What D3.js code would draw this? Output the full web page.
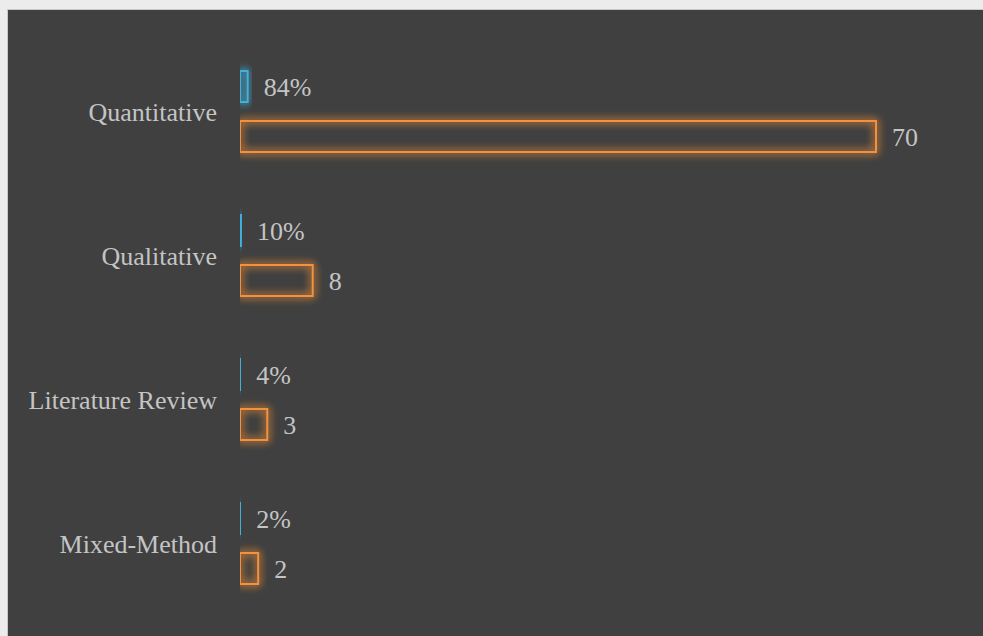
<!DOCTYPE html>
<html><head><meta charset="utf-8">
<script src="https://cdn.jsdelivr.net/npm/d3@7/dist/d3.min.js"></script>
<style>html,body{margin:0;padding:0;background:#e9e9e9;overflow:hidden}</style>
</head><body>
<svg id="c" width="983" height="636"></svg>
<script>
const categories = ["Quantitative", "Qualitative", "Literature Review", "Mixed-Method"];
const seriesKeys = ["percent", "count"];
const percentValues = [0.84, 0.10, 0.04, 0.02];
const percentLabels = ["84%", "10%", "4%", "2%"];
const countValues = [70, 8, 3, 2];
const countLabels = ["70", "8", "3", "2"];

const colors = {percent: "#3fb0dc", count: "#f4913c"};
const W = 983, H = 636;
const svg = d3.select("#c");

// frame
svg.append("rect").attr("x", 0).attr("y", 0).attr("width", W).attr("height", H).attr("fill", "#ececec");
svg.append("rect").attr("x", 7).attr("y", 9).attr("width", W - 7).attr("height", H - 9).attr("fill", "#c8c8c8");
svg.append("rect").attr("x", 8).attr("y", 10).attr("width", W - 8).attr("height", H - 10).attr("fill", "#404040");

const defs = svg.append("defs");
const f = defs.append("filter").attr("id", "glow").attr("x", "-50%").attr("y", "-50%").attr("width", "200%").attr("height", "200%");
f.append("feGaussianBlur").attr("in", "SourceGraphic").attr("stdDeviation", 4).attr("result", "b");
const fm = f.append("feMerge");
fm.append("feMergeNode").attr("in", "b");
fm.append("feMergeNode").attr("in", "b");
fm.append("feMergeNode").attr("in", "SourceGraphic");

defs.append("clipPath").attr("id", "plotclip").append("rect")
  .attr("x", 240).attr("y", 10).attr("width", W - 240).attr("height", H - 10);

const x = d3.scaleLinear().domain([0, 70]).range([240, 876]);
const y0 = d3.scaleBand().domain(categories).range([39.5, 615.5]).paddingInner(0.4236).paddingOuter(0.2118);
const y1 = d3.scaleBand().domain(seriesKeys).range([0, y0.bandwidth()]).paddingInner(0.34);

const rows = categories.map((c, i) => ({
  cat: c,
  items: [
    {key: "percent", value: percentValues[i], label: percentLabels[i]},
    {key: "count", value: countValues[i], label: countLabels[i]}
  ]
}));

const plot = svg.append("g").attr("clip-path", "url(#plotclip)");
const groups = plot.selectAll("g.grp").data(rows).join("g")
  .attr("transform", d => `translate(0,${y0(d.cat)})`);

groups.selectAll("rect").data(d => d.items).join("rect")
  .attr("x", x(0))
  .attr("y", d => y1(d.key) + 1)
  .attr("width", d => x(d.value) - x(0))
  .attr("height", y1.bandwidth() - 2)
  .attr("fill", "none")
  .attr("stroke", d => colors[d.key])
  .attr("stroke-width", 2)
  .attr("filter", "url(#glow)");

const labelG = svg.append("g");
rows.forEach(r => {
  r.items.forEach(it => {
    labelG.append("text")
      .attr("x", x(it.value) + 16)
      .attr("y", y0(r.cat) + y1(it.key) + y1.bandwidth() / 2)
      .attr("dy", "0.35em")
      .attr("fill", "#c4c4c4")
      .attr("font-family", "'Liberation Serif','Times New Roman',serif")
      .attr("font-size", 26)
      .text(it.label);
  });
});

// category axis labels
svg.append("g").selectAll("text").data(categories).join("text")
  .attr("x", 217)
  .attr("y", d => y0(d) + y0.bandwidth() / 2)
  .attr("dy", "0.35em")
  .attr("text-anchor", "end")
  .attr("fill", "#c4c4c4")
  .attr("font-family", "'Liberation Serif','Times New Roman',serif")
  .attr("font-size", 26)
  .text(d => d);
</script>
</body></html>
